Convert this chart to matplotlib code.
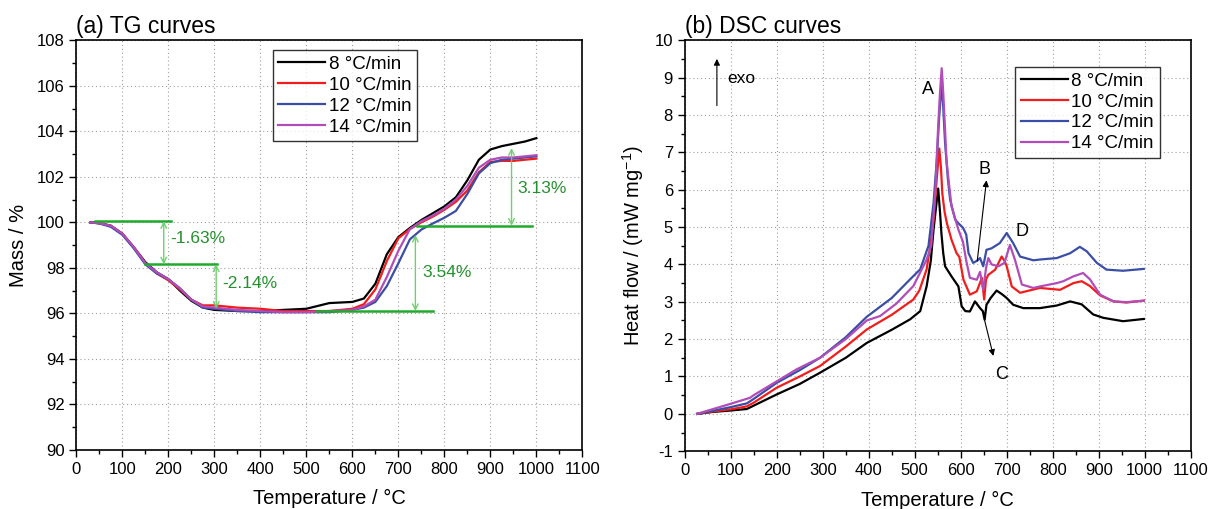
import numpy as np
import matplotlib.pyplot as plt
from matplotlib.ticker import MultipleLocator

plt.rcParams['font.family'] = ['Liberation Sans', 'DejaVu Sans']
plt.rcParams['mathtext.fontset'] = 'custom'
plt.rcParams['mathtext.rm'] = 'Liberation Sans'
plt.rcParams['axes.unicode_minus'] = False

# ---------------- TG data (mass %) ----------------
tg_T = [30, 50, 75, 100, 125, 150, 175, 200, 225, 250, 275, 300, 350, 400, 450, 500,
        550, 600, 625, 650, 675, 700, 725, 750, 775, 800, 825, 850, 875, 900, 925, 950, 975, 1000]
tg_8 = [100.0, 99.97, 99.85, 99.5, 98.9, 98.25, 97.8, 97.5, 97.0, 96.55, 96.25, 96.15, 96.1, 96.1, 96.15, 96.2,
        96.45, 96.5, 96.65, 97.3, 98.6, 99.35, 99.75, 100.1, 100.4, 100.7, 101.1, 101.85, 102.75, 103.2, 103.35, 103.45, 103.55, 103.7]
tg_10 = [100.0, 99.95, 99.85, 99.5, 98.9, 98.2, 97.75, 97.45, 97.05, 96.6, 96.35, 96.35, 96.25, 96.2, 96.1, 96.1,
         96.1, 96.2, 96.4, 97.05, 98.3, 99.3, 99.7, 100.0, 100.25, 100.55, 100.9, 101.4, 102.2, 102.65, 102.7, 102.7, 102.75, 102.8]
tg_12 = [100.0, 99.95, 99.8, 99.45, 98.85, 98.15, 97.75, 97.5, 97.1, 96.6, 96.25, 96.2, 96.1, 96.05, 96.05, 96.05,
         96.05, 96.15, 96.25, 96.5, 97.2, 98.2, 99.25, 99.68, 99.95, 100.2, 100.5, 101.25, 102.15, 102.6, 102.75, 102.8, 102.85, 102.9]
tg_14 = [100.0, 99.96, 99.85, 99.5, 98.9, 98.2, 97.8, 97.5, 97.1, 96.6, 96.3, 96.25, 96.15, 96.1, 96.05, 96.05,
         96.1, 96.15, 96.3, 96.6, 97.6, 98.75, 99.7, 100.05, 100.3, 100.6, 101.0, 101.6, 102.4, 102.75, 102.85, 102.85, 102.9, 102.95]

# TG annotations: horizontal levels (T start, T end, mass), arrows (T, from, to), labels (T, mass, text)
tg_levels = [(40, 205, 100.05), (150, 305, 98.15), (520, 775, 96.1), (740, 990, 99.85)]
tg_arrows = [(190, 100.05, 98.15), (304, 98.15, 96.2), (737, 96.1, 99.45), (946, 99.85, 103.26)]
tg_labels = [(205, 99.3, '-1.63%'), (318, 97.3, '-2.14%'), (752, 97.8, '3.54%'), (958, 101.5, '3.13%')]

# ---------------- DSC data (mW mg-1) ----------------
dsc_T_8 = [27, 60, 100, 135, 150, 200, 250, 294, 350, 396, 450, 490, 512, 526, 535, 541, 547, 551, 555, 558,
           562, 566, 580, 595, 602, 610, 620, 631, 642, 648, 652, 656, 665, 678, 690, 700, 714, 736, 772, 809,
           838, 863, 888, 910, 953, 998]
dsc_8 = [0, 0.05, 0.09, 0.13, 0.22, 0.52, 0.8, 1.1, 1.5, 1.9, 2.25, 2.53, 2.75, 3.42, 4.1, 4.94, 5.6, 6.03, 5.4, 4.84,
         4.3, 3.95, 3.68, 3.41, 2.88, 2.75, 2.74, 3.01, 2.83, 2.75, 2.52, 2.92, 3.1, 3.3, 3.2, 3.1, 2.92, 2.83, 2.83, 2.9,
         3.01, 2.93, 2.66, 2.57, 2.48, 2.54]
dsc_T_10 = [27, 60, 100, 135, 150, 200, 250, 294, 350, 396, 450, 497, 510, 526, 535, 541, 548, 553.5, 557, 560,
            565, 570, 580, 591, 597, 606, 620, 635, 646, 651, 655, 660, 675, 689, 695, 700, 711, 729, 772, 816,
            845, 863, 881, 903, 932, 960, 998]
dsc_10 = [0, 0.06, 0.12, 0.2, 0.3, 0.7, 1.0, 1.28, 1.8, 2.26, 2.65, 3.06, 3.3, 3.87, 4.6, 5.2, 6.3, 7.1, 6.6, 5.9,
          5.4, 5.1, 4.66, 4.3, 4.2, 3.59, 3.19, 3.28, 3.64, 3.06, 3.6, 3.72, 3.86, 4.21, 4.1, 3.95, 3.41, 3.24, 3.37, 3.32,
          3.5, 3.55, 3.42, 3.17, 3.01, 2.98, 3.03]
dsc_T_12 = [27, 60, 100, 135, 150, 200, 250, 294, 350, 396, 450, 490, 512, 530, 541, 548, 553, 557, 559, 562,
            566, 572, 577, 588, 595, 605, 612, 617, 627, 636, 642, 649, 656, 667, 685, 700, 714, 729, 758, 772,
            809, 838, 859, 874, 896, 917, 953, 998]
dsc_12 = [0, 0.08, 0.18, 0.28, 0.4, 0.83, 1.17, 1.5, 2.05, 2.6, 3.1, 3.6, 3.87, 4.5, 5.65, 6.8, 7.9, 8.6, 8.76, 8.2,
          7.25, 6.3, 5.73, 5.2, 5.1, 4.98, 4.8, 4.3, 4.04, 4.1, 4.17, 3.95, 4.39, 4.43, 4.57, 4.84, 4.57, 4.21, 4.11, 4.13,
          4.17, 4.3, 4.47, 4.35, 4.04, 3.86, 3.83, 3.88]
dsc_T_14 = [27, 62, 100, 142, 150, 200, 243, 294, 350, 396, 425, 460, 497, 526, 536, 545, 551, 555, 558.7, 562,
            566, 569, 575, 580, 595, 605, 612, 620, 635, 642, 649, 655, 660, 667, 682, 695, 707, 718, 733, 758,
            772, 809, 823, 845, 866, 881, 903, 932, 961, 998]
dsc_14 = [0, 0.13, 0.27, 0.43, 0.5, 0.87, 1.19, 1.5, 2.0, 2.5, 2.62, 2.95, 3.42, 4.13, 4.5, 6.0, 7.7, 8.6, 9.25, 8.6,
          7.6, 6.8, 6.1, 5.55, 4.93, 4.6, 4.1, 3.64, 3.59, 3.8, 3.32, 3.9, 4.17, 4.0, 3.95, 4.04, 4.52, 4.12, 3.46, 3.37,
          3.41, 3.5, 3.55, 3.68, 3.77, 3.6, 3.19, 3.01, 2.99, 3.03]

labels = ['8 °C/min', '10 °C/min', '12 °C/min', '14 °C/min']
colors = ['#000000', '#f21c1c', '#3a4ea6', '#b04db8']

green_line = '#1faa2a'
green_arrow = '#6fd06f'
green_text = '#24902e'

fig = plt.figure(figsize=(12.08, 5.09), dpi=100)
ax1 = fig.add_axes([0.0632, 0.1163, 0.4189, 0.8045])
ax2 = fig.add_axes([0.5668, 0.1135, 0.4189, 0.8075])


def style_axes(ax):
    ax.set_xlim(0, 1100)
    ax.xaxis.set_major_locator(MultipleLocator(100))
    ax.xaxis.set_minor_locator(MultipleLocator(50))
    ax.tick_params(which='both', direction='out', top=False, right=False, labelsize=12)
    ax.tick_params(which='major', length=5, width=1)
    ax.tick_params(which='minor', length=3, width=1)
    ax.grid(True, which='major', linestyle=(0, (1, 2.5)), color='#a0a0a0', linewidth=0.8)
    ax.set_axisbelow(True)
    for s in ax.spines.values():
        s.set_linewidth(1.2)
    ax.set_xlabel('Temperature / °C', fontsize=14.5, labelpad=9)


def add_legend(ax, anchor):
    ax.legend(loc='upper left', bbox_to_anchor=anchor, fontsize=13.5, frameon=True,
              fancybox=False, edgecolor='black', handlelength=2.5, handletextpad=0.2,
              borderpad=0.3, labelspacing=0.2, borderaxespad=0)


# ---- (a) TG ----
style_axes(ax1)
for y, lab, c in zip([tg_8, tg_10, tg_12, tg_14], labels, colors):
    ax1.plot(tg_T, y, color=c, lw=1.6, label=lab)
ax1.set_ylim(90, 108)
ax1.yaxis.set_major_locator(MultipleLocator(2))
ax1.yaxis.set_minor_locator(MultipleLocator(1))
ax1.set_ylabel('Mass / %', fontsize=14.5, labelpad=6)

for t0, t1, m in tg_levels:
    ax1.plot([t0, t1], [m, m], color=green_line, lw=1.8)
for t, m0, m1 in tg_arrows:
    ax1.annotate('', xy=(t, m1), xytext=(t, m0),
                 arrowprops=dict(arrowstyle='<->', color=green_arrow, lw=1, shrinkA=0, shrinkB=0))
for t, m, s in tg_labels:
    ax1.text(t, m, s, color=green_text, fontsize=12.5, ha='left', va='center')

add_legend(ax1, (0.388, 0.976))
ax1.set_title('(a) TG curves', loc='left', fontsize=16.5, pad=5)

# ---- (b) DSC ----
style_axes(ax2)
for T, y, lab, c in zip([dsc_T_8, dsc_T_10, dsc_T_12, dsc_T_14],
                        [dsc_8, dsc_10, dsc_12, dsc_14], labels, colors):
    ax2.plot(T, y, color=c, lw=1.6, label=lab)
ax2.set_ylim(-1, 10)
ax2.yaxis.set_major_locator(MultipleLocator(1))
ax2.yaxis.set_minor_locator(MultipleLocator(0.5))
ax2.set_ylabel('Heat flow / (mW mg$^{-1}$)', fontsize=14.5, labelpad=6)

ax2.annotate('', xy=(70, 9.5), xytext=(70, 8.25),
             arrowprops=dict(arrowstyle='-|>', color='black', lw=0.8, mutation_scale=9, shrinkA=0, shrinkB=0))
ax2.text(92, 8.97, 'exo', fontsize=12.5, ha='left', va='center')
ax2.text(529, 8.67, 'A', fontsize=13, ha='center', va='center')
ax2.text(652, 6.55, 'B', fontsize=13, ha='center', va='center')
ax2.annotate('', xy=(656, 6.25), xytext=(636, 4.1),
             arrowprops=dict(arrowstyle='-|>', color='black', lw=0.8, mutation_scale=9, shrinkA=0, shrinkB=0))
ax2.text(688, 1.05, 'C', fontsize=13, ha='center', va='center')
ax2.annotate('', xy=(671, 1.55), xytext=(652, 2.5),
             arrowprops=dict(arrowstyle='-|>', color='black', lw=0.8, mutation_scale=9, shrinkA=0, shrinkB=0))
ax2.text(733, 4.87, 'D', fontsize=13, ha='center', va='center')

add_legend(ax2, (0.653, 0.935))
ax2.set_title('(b) DSC curves', loc='left', fontsize=16.5, pad=5)

fig.savefig('out.png', dpi=100)
